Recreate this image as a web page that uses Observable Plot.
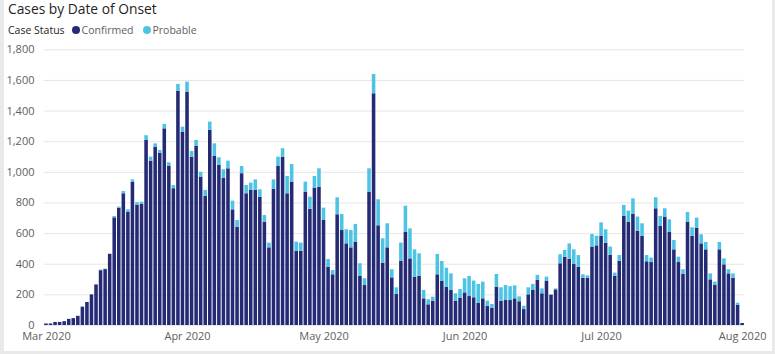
<!DOCTYPE html>
<html>
<head>
<meta charset="utf-8">
<script src="https://cdn.jsdelivr.net/npm/d3@7"></script>
<script src="https://cdn.jsdelivr.net/npm/@observablehq/plot@0.6"></script>
<style>
  html, body { margin: 0; padding: 0; background: #e9e9e9; width: 775px; height: 354px; overflow: hidden; }
  #card { position: absolute; left: 4px; top: 0; width: 768px; height: 351px; background: #ffffff; overflow: hidden; font-family: "Open Sans", "Segoe UI", sans-serif; }
  #title { height: 20px; line-height: 17px; padding-left: 4px; font-size: 13.8px; color: #252423; }
  #legend { height: 20px; line-height: 20px; padding-left: 4px; font-size: 10.5px; color: #605e5c; display: flex; align-items: center; }
  #legend .head { color: #252423; margin-right: 7px; }
  #legend .sw { display: inline-block; width: 8px; height: 8px; border-radius: 50%; margin-right: 2px; }
  #legend .item { display: flex; align-items: center; margin-right: 9px; }
</style>
</head>
<body>
<div id="card">
  <div id="title">Cases by Date of Onset</div>
  <div id="legend"></div>
  <div id="chart"></div>
</div>
<script>
const seriesNames = ["Confirmed", "Probable"];
const seriesColors = ["#252a75", "#4ec4e4"];
const startDate = "2020-03-01";
const endDate = "2020-08-01";
const yTicks = [0, 200, 400, 600, 800, 1000, 1200, 1400, 1600, 1800];
const xTickDates = ["2020-03-01", "2020-04-01", "2020-05-01", "2020-06-01", "2020-07-01", "2020-08-01"];

const confirmed = [
  10, 10, 20, 20, 25, 40, 45, 60, 120, 150,
  200, 265, 358, 365, 465, 703, 766, 860, 740, 936,
  786, 790, 1208, 1073, 1162, 1125, 1284, 1038, 893, 1530,
  1263, 1524, 1099, 1169, 969, 842, 1274, 1104, 1045, 962,
  1023, 755, 642, 991, 860, 882, 882, 838, 675, 507,
  888, 1038, 1099, 860, 936, 485, 485, 871, 758, 897,
  903, 686, 381, 331, 723, 620, 533, 507, 542, 320,
  261, 871, 1513, 651, 407, 507, 311, 202, 420, 610,
  435, 316, 322, 174, 135, 159, 331, 290, 250, 229,
  159, 179, 213, 189, 181, 146, 174, 126, 113, 250,
  159, 163, 163, 174, 155, 104, 200, 229, 294, 207,
  290, 196, 233, 403, 446, 433, 398, 381, 309, 309,
  512, 520, 581, 538, 457, 322, 420, 712, 673, 725,
  616, 581, 416, 411, 762, 647, 708, 607, 494, 411,
  333, 675, 583, 636, 533, 494, 298, 261, 494, 396,
  337, 309, 131, 13
];
const probable = [
  0, 0, 0, 0, 0, 0, 0, 0, 0, 0,
  0, 0, 4, 3, 0, 9, 7, 15, 15, 15,
  15, 15, 31, 26, 24, 18, 29, 24, 21, 44,
  32, 65, 37, 39, 32, 40, 54, 82, 50, 55,
  50, 57, 44, 47, 54, 48, 69, 48, 43, 31,
  63, 61, 55, 113, 115, 59, 53, 65, 80, 76,
  120, 80, 50, 28, 111, 105, 92, 113, 118, 83,
  44, 152, 126, 170, 159, 157, 53, 44, 118, 169,
  196, 178, 146, 55, 33, 26, 133, 128, 124, 108,
  48, 56, 92, 131, 109, 122, 109, 33, 24, 83,
  87, 98, 90, 85, 32, 22, 46, 39, 33, 32,
  26, 6, 6, 59, 44, 100, 96, 76, 22, 15,
  82, 63, 89, 87, 55, 20, 37, 72, 74, 102,
  92, 83, 41, 29, 72, 65, 54, 83, 61, 35,
  31, 63, 55, 65, 59, 48, 39, 22, 48, 39,
  27, 28, 15, 0
];

const days = d3.utcDay.range(new Date(startDate), d3.utcDay.offset(new Date(endDate), 1));
const rows = [];
days.forEach((d, i) => {
  rows.push({date: d, status: seriesNames[0], value: confirmed[i]});
  rows.push({date: d, status: seriesNames[1], value: probable[i]});
});

// legend
const legend = document.getElementById("legend");
legend.innerHTML = `<span class="head">Case Status</span>` + seriesNames.map((s, i) =>
  `<span class="item"><span class="sw" style="background:${seriesColors[i]}"></span>${s}</span>`).join("");

const chart = Plot.plot({
  width: 768,
  height: 311,
  marginLeft: 39.7,
  marginRight: 27.6,
  marginTop: 9.3,
  marginBottom: 26,
  style: {fontFamily: "'Open Sans', 'Segoe UI', sans-serif", fontSize: "11px", color: "#605e5c", background: "transparent"},
  x: {
    type: "band",
    domain: days,
    paddingInner: 0.22,
    paddingOuter: 0.11,
    ticks: xTickDates.map(s => new Date(s)),
    tickFormat: d3.utcFormat("%b %Y"),
    tickSize: 0,
    tickPadding: 7,
    label: null
  },
  y: {
    domain: [0, 1800],
    ticks: yTicks,
    tickFormat: d3.format(","),
    tickSize: 0,
    tickPadding: 9.7,
    label: null
  },
  color: {domain: seriesNames, range: seriesColors},
  marks: [
    Plot.gridY(yTicks, {stroke: "#e6e6e6", strokeOpacity: 1, strokeWidth: 1}),
    Plot.barY(rows, {x: "date", y: "value", fill: "status", order: seriesNames})
  ]
});
document.getElementById("chart").appendChild(chart);
</script>
</body>
</html>
